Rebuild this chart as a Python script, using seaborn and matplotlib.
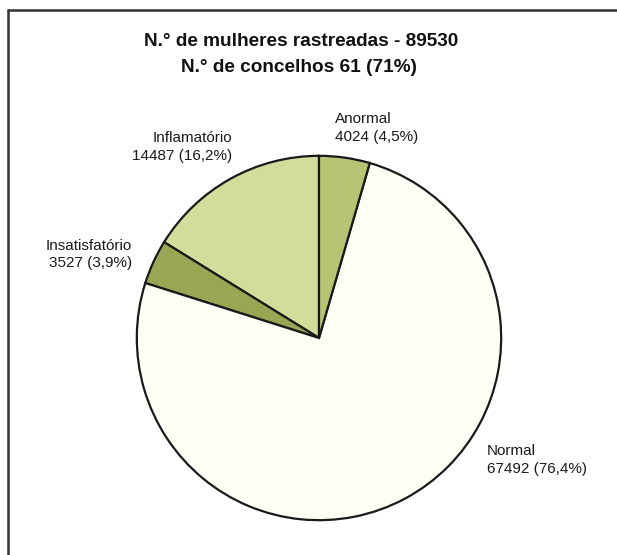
import matplotlib
matplotlib.use("Agg")
import matplotlib.pyplot as plt
from matplotlib.lines import Line2D
import seaborn as sns

sns.set_theme(style="white")
plt.rcParams['font.family'] = ['Liberation Sans', 'DejaVu Sans']

# Data (counter-clockwise from 12 o'clock)
categories = ["Inflamatório", "Insatisfatório", "Normal", "Anormal"]
values = [14487, 3527, 67492, 4024]
pct_labels = ["16,2%", "3,9%", "76,4%", "4,5%"]
colors = ["#D4DC9B", "#99A653", "#FFFFF6", "#B9C374"]
title_lines = ["N.° de mulheres rastreadas - 89530", "N.° de concelhos 61 (71%)"]

W, H = 617, 555
fig = plt.figure(figsize=(W / 100, H / 100), dpi=100)
fig.patch.set_facecolor("white")

cx, cy, r = 319, 338, 184
ax = fig.add_axes([(cx - r) / W, (H - cy - r) / H, 2 * r / W, 2 * r / H])
ax.pie(values, colors=colors, startangle=90, counterclock=True, radius=1,
       wedgeprops=dict(edgecolor="#1a1a1a", linewidth=1.6))
ax.set_xlim(-1.01, 1.01)
ax.set_ylim(-1.01, 1.01)
ax.set_aspect("equal")
ax.axis("off")

# frame lines
fig.add_artist(Line2D([8 / W, 1], [1 - 10 / H, 1 - 10 / H], transform=fig.transFigure,
                      color="#333333", linewidth=1.8))
fig.add_artist(Line2D([8 / W, 8 / W], [1 - 10 / H, 0], transform=fig.transFigure,
                      color="#333333", linewidth=1.8))

# title
fig.text(301 / W, 1 - 42 / H, title_lines[0], ha="center", va="center",
         fontsize=13.7, fontweight="bold", color="#111111")
fig.text(299 / W, 1 - 67 / H, title_lines[1], ha="center", va="center",
         fontsize=13.7, fontweight="bold", color="#111111")

# slice labels (positions in pixels)
label_pos = {
    "Inflamatório": (232, 138, 156, "right"),
    "Insatisfatório": (132, 246, 263, "right"),
    "Normal": (487, 451, 469, "left"),
    "Anormal": (335, 119, 137, "left"),
}
for cat, val, pct in zip(categories, values, pct_labels):
    x, y1, y2, ha = label_pos[cat]
    fig.text(x / W, 1 - y1 / H, cat, ha=ha, va="center", fontsize=11, color="#1a1a1a")
    fig.text(x / W, 1 - y2 / H, f"{val} ({pct})", ha=ha, va="center", fontsize=11,
             color="#1a1a1a")

fig.savefig("out.png", dpi=100, facecolor="white")
